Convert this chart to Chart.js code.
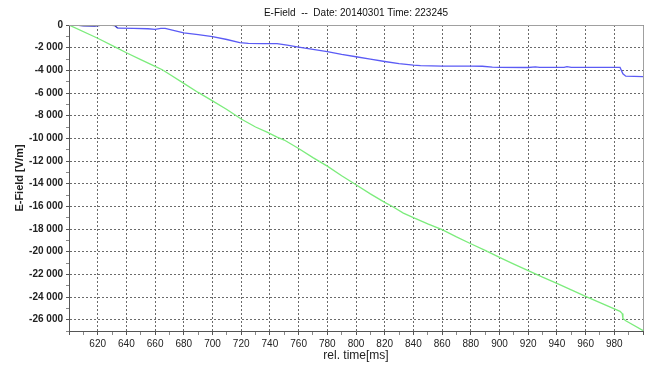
<!DOCTYPE html>
<html>
<head>
<meta charset="utf-8">
<script src="https://cdn.jsdelivr.net/npm/chart.js@4/dist/chart.umd.min.js"></script>
<style>
  html, body { margin: 0; padding: 0; background: #fff; }
  #wrap { width: 651px; height: 367px; }
</style>
</head>
<body>
<div id="wrap"><canvas id="efield" width="651" height="367"></canvas></div>
<script>
// sensor 1 (blue) and sensor 2 (green), time in ms, field in V/m
const blueTime  = [600, 605, 610, 618, 622, 630, 632, 634, 645, 655, 660, 664, 667, 672, 680, 690, 700, 710, 719, 725, 735, 745, 752, 760, 770, 780, 790, 800, 810, 820, 830, 840, 845, 860, 880, 888, 895, 900, 920, 925, 928, 945, 947, 950, 984, 986, 988, 1000]
const blueField = [0, -20, -80, -90, -40, -30, -60, -280, -300, -330, -390, -300, -290, -450, -700, -850, -1030, -1280, -1550, -1620, -1650, -1640, -1780, -1950, -2150, -2350, -2600, -2800, -3020, -3220, -3400, -3540, -3580, -3620, -3620, -3640, -3720, -3740, -3750, -3700, -3740, -3740, -3680, -3740, -3740, -4300, -4520, -4550]

const greenTime  = [600, 620, 633, 640, 650, 660, 665, 670, 680, 690, 700, 710, 720, 730, 738, 745, 750, 760, 770, 780, 790, 800, 810, 820, 826, 833, 840, 850, 860, 870, 880, 890, 900, 910, 920, 930, 940, 950, 960, 970, 984, 985.5, 986, 988, 1000]
const greenField = [0, -1170, -2000, -2450, -3050, -3650, -3950, -4350, -5150, -5950, -6700, -7450, -8300, -9000, -9450, -9900, -10150, -10900, -11700, -12450, -13300, -14100, -14900, -15650, -16060, -16600, -17000, -17550, -18060, -18700, -19300, -19880, -20500, -21100, -21680, -22250, -22800, -23370, -23940, -24500, -25260, -25450, -25900, -26100, -26960]

const xMin = 600, xMax = 1000
const yMin = -27000, yMax = 0

function pts(xs, ys) {
    return xs.map((x, i) => ({ x: x, y: ys[i] }))
}

function groupNumber(v) {
    let s = Math.abs(v).toString().replace(/\B(?=(\d{3})+(?!\d))/g, ' ')
    return (v < 0 ? '-' : '') + s
}

// light frame on top/right of the plot area
const frame = {
    id: 'frame',
    afterDraw(chart) {
        const a = chart.chartArea, c = chart.ctx
        c.save()
        c.strokeStyle = '#a0a0a0'
        c.lineWidth = 1
        c.beginPath()
        c.moveTo(a.left, a.top + 0.5)
        c.lineTo(a.right + 0.5, a.top + 0.5)
        c.lineTo(a.right + 0.5, a.bottom)
        c.stroke()
        c.restore()
    }
}

const family = 'Liberation Sans, Arial, sans-serif'
const font = { family: family, size: 10 }
const boldFont = { family: family, size: 10, weight: 'bold' }

new Chart(document.getElementById('efield'), {
    type: 'line',
    data: {
        datasets: [
            {
                label: 'E1',
                data: pts(blueTime, blueField),
                borderColor: '#5b5bf5',
                segment: {
                    // first stretch sits on the zero line and reads darker
                    borderColor: ctx => ctx.p1.parsed.x <= 634 ? '#2f2fbf' : undefined
                },
                borderWidth: 1.3,
                pointRadius: 0,
                tension: 0
            },
            {
                label: 'E2',
                data: pts(greenTime, greenField),
                borderColor: '#7cec7c',
                borderWidth: 1.3,
                pointRadius: 0,
                tension: 0
            }
        ]
    },
    plugins: [frame],
    options: {
        responsive: false,
        animation: false,
        layout: { padding: { left: 0, right: 8, top: 0, bottom: 0 } },
        plugins: {
            legend: { display: false },
            tooltip: { enabled: false },
            title: {
                display: true,
                fullSize: false,
                text: 'E-Field  --  Date: 20140301 Time: 223245',
                color: '#111',
                font: { family: family, size: 10, weight: 'normal' },
                padding: { top: 7, bottom: 6 }
            }
        },
        scales: {
            x: {
                type: 'linear',
                min: xMin,
                max: xMax,
                afterBuildTicks(scale) {
                    let t = []
                    for (let v = xMin; v <= xMax; v += 10) t.push({ value: v })
                    scale.ticks = t
                },
                afterFit(scale) { scale.height = 36 },
                ticks: {
                    autoSkip: false,
                    maxRotation: 0,
                    color: '#222',
                    font: font,
                    padding: 3,
                    callback: v => (v % 20 === 0 && v > xMin && v < xMax) ? String(v) : ''
                },
                grid: {
                    color: c => (c.tick && c.tick.value % 20 === 0) ? '#6a6a6a' : 'rgba(0,0,0,0)',
                    tickColor: c => (c.tick && c.tick.value % 20 === 0) ? '#555' : '#888',
                    tickLength: 4,
                    lineWidth: 1
                },
                border: { display: true, color: '#555', width: 1, dash: [2, 2] },
                title: {
                    display: true,
                    text: 'rel. time[ms]',
                    color: '#222',
                    font: { family: family, size: 12, weight: 'normal' },
                    padding: { top: 0, bottom: 4 }
                }
            },
            y: {
                type: 'linear',
                min: yMin,
                max: yMax,
                afterBuildTicks(scale) {
                    let t = []
                    for (let v = yMin; v <= yMax; v += 1000) t.push({ value: v })
                    scale.ticks = t
                },
                afterFit(scale) { scale.width = 69 },
                ticks: {
                    autoSkip: false,
                    color: '#222',
                    font: boldFont,
                    padding: 3,
                    callback: v => (v % 2000 === 0) ? groupNumber(v) : ''
                },
                grid: {
                    color: c => (c.tick && c.tick.value % 2000 === 0 && c.tick.value !== yMin) ? '#6a6a6a' : 'rgba(0,0,0,0)',
                    tickColor: c => (c.tick && c.tick.value % 2000 === 0) ? '#555' : '#888',
                    tickLength: 3,
                    lineWidth: 1
                },
                border: { display: true, color: '#555', width: 1, dash: [2, 2] },
                title: {
                    display: true,
                    text: 'E-Field [V/m]',
                    color: '#222',
                    font: { family: family, size: 11, weight: 'bold' },
                    padding: { top: 13, bottom: 4 }
                }
            }
        }
    }
})
</script>
</body>
</html>
